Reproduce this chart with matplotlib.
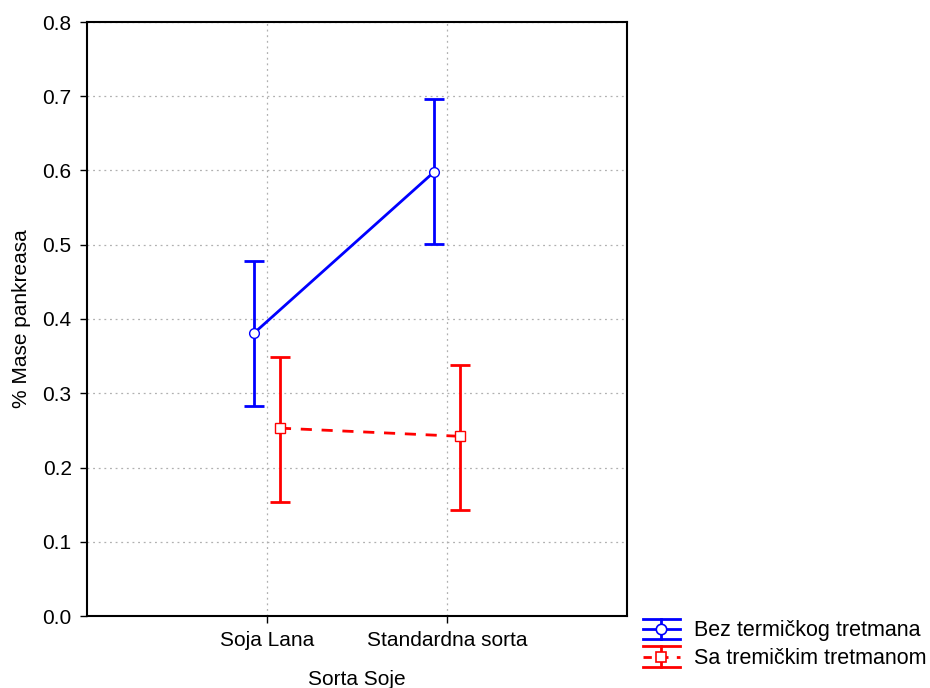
import matplotlib.pyplot as plt
from matplotlib.legend_handler import HandlerBase
from matplotlib.lines import Line2D
import numpy as np

plt.rcParams['font.family'] = ['Liberation Sans', 'DejaVu Sans']

kategorije = ['Soja Lana', 'Standardna sorta']
bez_sred = [0.381, 0.598]
bez_dole = [0.283, 0.501]
bez_gore = [0.478, 0.696]
sa_sred = [0.253, 0.242]
sa_dole = [0.154, 0.143]
sa_gore = [0.349, 0.338]

PLAVA = '#0000ff'
CRVENA = '#ff0000'


class HandlerStub(HandlerBase):
    # legenda: gornja i donja kapica preko cijele širine, stub i marker u sredini
    def __init__(self, boja, ls, marker):
        super().__init__()
        self.boja = boja
        self.ls = ls
        self.marker = marker

    def create_artists(self, legend, orig_handle, xdescent, ydescent, width,
                       height, fontsize, trans):
        x0 = -xdescent
        x1 = x0 + width
        xm = (x0 + x1) / 2
        cy = -ydescent + height / 2
        h = 7.3
        kw = dict(color=self.boja, lw=2, transform=trans)
        gore = Line2D([x0, x1], [cy + h, cy + h], **kw)
        dole = Line2D([x0, x1], [cy - h, cy - h], **kw)
        stub = Line2D([xm, xm], [cy - h, cy + h], **kw)
        if self.ls == '--':
            sredina = Line2D([x0, x1], [cy, cy], color=self.boja, lw=2,
                             dashes=(3, 3), transform=trans)
        else:
            sredina = Line2D([x0, x1], [cy, cy], color=self.boja, lw=2,
                             transform=trans)
        tacka = Line2D([xm], [cy], marker=self.marker, ms=7.5, mfc='white',
                       mec=self.boja, mew=1.2, ls='none', transform=trans)
        return [gore, dole, stub, sredina, tacka]


fig = plt.figure(figsize=(9.3, 6.88), dpi=100)
ax = fig.add_axes([87/930, 72/688, 540/930, 594/688])

x = np.arange(len(kategorije))
pomak = 0.072

bs = np.array(bez_sred)
ss = np.array(sa_sred)
h1 = ax.errorbar(x - pomak, bs, yerr=[bs - np.array(bez_dole), np.array(bez_gore) - bs],
                 color=PLAVA, lw=2, marker='o', ms=7, mfc='white', mec=PLAVA,
                 mew=1.0, capsize=7.2, elinewidth=2,
                 label='Bez termičkog tretmana', zorder=3)
h2 = ax.errorbar(x + pomak, ss, yerr=[ss - np.array(sa_dole), np.array(sa_gore) - ss],
                 color=CRVENA, lw=2, ls='--', dashes=(4, 3.5), marker='s', ms=7,
                 mfc='white', mec=CRVENA, mew=1.0, capsize=7.2,
                 elinewidth=2, label='Sa tremičkim tretmanom', zorder=3)
# kapice deblje od ruba markera
for h in (h1, h2):
    for kapa in h[1]:
        kapa.set_markeredgewidth(2)

ax.set_xlim(-1, 2)
ax.set_ylim(0, 0.8)
ax.set_xticks(x)
ax.set_xticklabels(kategorije, fontsize=15)
ax.set_yticks(np.arange(0, 0.81, 0.1))
ax.set_yticklabels(['%.1f' % v for v in np.arange(0, 0.81, 0.1)], fontsize=15)
ax.tick_params(direction='out', length=5, width=1, pad=6)
ax.grid(True, ls=(0, (1.5, 3)), color='#b0b0b0', lw=0.9)
ax.set_axisbelow(True)
for s in ax.spines.values():
    s.set_linewidth(1.5)
    s.set_color('black')

ax.set_xlabel('Sorta Soje', fontsize=15, labelpad=14)
ax.set_ylabel('% Mase pankreasa', fontsize=15, labelpad=8)

fig.legend(handles=[h1, h2], loc='lower right', bbox_to_anchor=(1.0, 0.023),
           frameon=False, fontsize=15.5, handlelength=1.75, handleheight=0.9,
           handletextpad=0.65, labelspacing=0.3, borderaxespad=0.05,
           borderpad=0.1,
           handler_map={h1: HandlerStub(PLAVA, '-', 'o'),
                        h2: HandlerStub(CRVENA, '--', 's')})

fig.savefig('out.png', dpi=100)
plt.close()
